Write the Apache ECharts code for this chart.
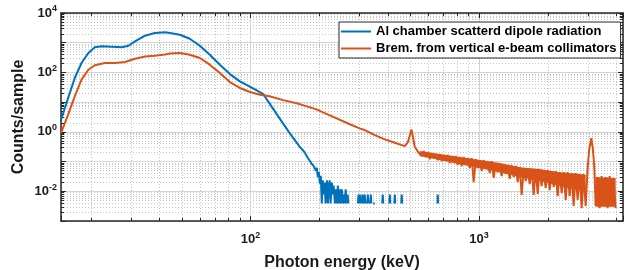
<!DOCTYPE html>
<html lang="en">
<head>
<meta charset="UTF-8">
<title>Photon spectrum</title>
<script src="https://cdn.jsdelivr.net/npm/echarts@6/dist/echarts.min.js"></script>
<style>
    html, body { margin: 0; padding: 0; background: #fff; }
    #main { width: 625px; height: 270px; }
</style>
</head>
<body>
<div id="main"></div>
<script type="text/javascript">

// legend names
var seriesNames = ['Al chamber scatterd dipole radiation', 'Brem. from vertical e-beam collimators'];

// Al chamber: photon energy (keV) / counts per sample, null = empty bin
var blueE = [14.8, 15.9, 17.0, 18.2, 19.5, 20.8, 22.3, 24.7, 27.3, 29.2, 31.2, 34.5, 38.1, 42.2, 44.4, 49.1, 54.2, 60.0, 66.3, 73.4,
    81.2, 89.8, 99.3, 106, 113.6, 121, 134, 148.6, 164, 172,
    178, 182, 185, 189, 193, 195, 197, 199, 201, 203, 205, 207, 209, 211, 213, 216, 218, 220, 222, 224,
    227, 229, 231, 234, 236, 239, 241, 243, 246, 248, 251, 253, 256, 258, 261, 263, 266, 268, 270,
    295, 297, 299, 301, 303, 304, 307, 309, 311, 312, 314, 316, 318, 320, 324, 326, 328, 330, 334, 336, 338, 340,
    344, 350, 352, 377, 379, 381, 383, 405, 407, 409, 411, 426, 428, 430, 432, 457, 459, 461, 463, 658, 660, 662];
var blueC = [2.5, 13.7, 65, 208, 450, 700, 760, 730, 700, 790, 1115, 1720, 2120, 2240, 2120, 1860, 1365, 790, 395, 182,
    88, 50, 33, 25.5, 18.7, 9.1, 2.85, 0.89, 0.32, 0.21,
    0.135, 0.105, 0.085, 0.07, 0.05, 0.062, 0.03, 0.045, 0.018, 0.033, 0.0039, 0.0234, 0.0078, 0.0195, 0.0039, 0.0234, 0.0039, 0.0156, 0.0234, 0.0039,
    0.0195, 0.0078, 0.0156, 0.0039, 0.0117, 0.0039, 0.0156, 0.0039, 0.0117, 0.0039, 0.0117, 0.0039, 0.0078, 0.0039, 0.0117, 0.0039, 0.0078, 0.0039, null,
    0.0039, 0.0078, 0.0039, 0.0078, 0.0039, null, 0.0039, 0.0078, 0.0039, null, 0.0039, 0.0078, 0.0039, null, 0.0039, 0.0078, 0.0039, null, 0.0039, 0.0078, 0.0039, null,
    0.0039, 0.0039, null, 0.0039, 0.0078, 0.0039, null, 0.0039, 0.0078, 0.0039, null, 0.0039, 0.0078, 0.0039, null, 0.0039, 0.0078, 0.0039, null, 0.0039, 0.0078, 0.0039];

// collimators: photon energy (keV) / counts per sample
var orangeE = [14.8, 15.9, 17.0, 18.2, 19.5, 20.8, 23.0, 25.5, 28.2, 31.2, 34.5, 38.1, 42.2, 44.4, 49.1, 54.2, 60.0, 66.3, 73.4, 81.2,
    89.8, 99.3, 110, 121, 139, 164, 194, 230, 272, 300, 316, 350, 387, 428, 473, 489, 500, 506, 512, 523, 541,
    550, 562, 573, 585, 597, 609, 621, 634, 647, 660, 673, 687, 701, 715, 730, 745, 760, 775, 791, 807,
    824, 840, 857, 875, 893, 911, 929, 948, 968, 987, 1007, 1028, 1049, 1070, 1092, 1114, 1137, 1160, 1183, 1208,
    1232, 1257, 1283, 1309, 1336, 1363, 1390, 1419, 1448, 1477, 1507, 1538, 1569, 1601, 1634, 1667, 1701, 1735, 1771, 1807,
    1843, 1881, 1919, 1958, 1998, 2039, 2080, 2123, 2166, 2210, 2255, 2301, 2348, 2396, 2444, 2494, 2545, 2597, 2649, 2703,
    2758, 2815, 2872, 2930, 2990, 3035, 3103, 3150, 3200, 3240, 3306, 3373, 3442, 3512, 3583, 3656, 3731, 3807, 3884, 3963];
var orangeC = [0.9, 3.8, 15.7, 57, 123, 174, 207, 207, 224, 288, 345, 363, 400, 435, 450, 395, 305, 182, 95, 47.5,
    30, 22, 17.8, 15.7, 11.7, 8.6, 5.7, 3.2, 1.8, 1.31, 1.15, 0.78, 0.56, 0.43, 0.33, 0.46, 0.85, 1.2, 0.8, 0.32, 0.21,
    0.226, 0.153, 0.226, 0.142, 0.209, 0.121, 0.193, 0.131, 0.179, 0.112, 0.179, 0.104, 0.166, 0.112, 0.166, 0.089, 0.153, 0.096, 0.153, 0.076,
    0.142, 0.071, 0.142, 0.082, 0.131, 0.0605, 0.131, 0.0204, 0.121, 0.0605, 0.112, 0.048, 0.112, 0.056, 0.104, 0.041, 0.104, 0.028, 0.089, 0.044,
    0.089, 0.0325, 0.082, 0.038, 0.076, 0.026, 0.076, 0.030, 0.071, 0.0204, 0.065, 0.0075, 0.0605, 0.022, 0.0605, 0.0175, 0.056, 0.0075, 0.056, 0.0081,
    0.056, 0.015, 0.052, 0.0128, 0.052, 0.011, 0.048, 0.0139, 0.048, 0.0069, 0.044, 0.0087, 0.044, 0.0051, 0.044, 0.0069, 0.041, 0.0032, 0.041, 0.0051,
    0.038, 0.0027, 0.038, 0.0032, 0.06, 0.244, 0.618, 0.285, 0.06, 0.0032, 0.030, 0.0027, 0.0325, 0.0032, 0.030, 0.0027, 0.0325, 0.0032, 0.028, 0.0027];

// dense noise band of the collimator spectrum (upper / lower edge)
var band1E = [550, 673, 824, 1007, 1232, 1507, 1843, 2255, 2758, 2930];
var band1Top = [0.226, 0.179, 0.142, 0.112, 0.089, 0.065, 0.056, 0.044, 0.038, 0.035];
var band1Bot = [0.153, 0.112, 0.082, 0.0605, 0.044, 0.030, 0.022, 0.015, 0.011, 0.0094];
var band2E = [3240, 3500, 3963];
var band2Top = [0.030, 0.029, 0.028];
var band2Bot = [0.0030, 0.0030, 0.0030];

// axis ranges
var xMin = 14.8, xMax = 4270;
var yMin = 0.001, yMax = 10000;

var font = 'Liberation Sans, Arial, Helvetica, sans-serif';
var ink = '#1a1a1a';
var lineIcon = 'path://M0,0 L30,0 L30,2 L0,2 Z';

function pairs(e, c) {
    var out = [];
    for (var i = 0; i < Math.min(e.length, c.length); i++) {
        out.push([e[i], c[i] === null ? '-' : c[i]]);
    }
    return out;
}

// 10^n labels
function decadeLabel(step) {
    return function (value) {
        var p = Math.log(value) / Math.LN10;
        var n = Math.round(p);
        if (Math.abs(p - n) > 1e-6 || n % step !== 0) return '';
        return '{b|10}{s|' + n + '}';
    };
}
var labelRich = {
    b: {fontFamily: font, fontSize: 13, fontWeight: 'bold', color: ink},
    s: {fontFamily: font, fontSize: 9, fontWeight: 'bold', color: ink, padding: [0, 0, 8, 0]}
};

function logAxis(pos, min, max, withLabels) {
    var main = pos === 'bottom' || pos === 'left';
    return {
        type: 'log',
        logBase: 10,
        position: pos,
        min: min,
        max: max,
        axisLine: {show: true, onZero: false, lineStyle: {color: '#262626', width: 1.5}},
        axisTick: {show: true, inside: true, length: 5, lineStyle: {color: '#262626', width: 1}},
        minorTick: {show: true, splitNumber: 9, length: 3, lineStyle: {color: '#262626', width: 1}},
        axisLabel: {show: withLabels, formatter: decadeLabel(pos === 'left' ? 2 : 1), rich: labelRich,
            margin: pos === 'left' ? 4 : 10},
        splitLine: {show: main, lineStyle: {color: '#d4d4d4', width: 1}},
        minorSplitLine: {show: main, lineStyle: {color: '#c4c4c4', width: 1, type: [1, 2]}}
    };
}

var bands = [
    {e: band1E, top: band1Top, bot: band1Bot},
    {e: band2E, top: band2Top, bot: band2Bot}
];

function renderBand(params, api) {
    var b = bands[params.dataIndex];
    var pts = [];
    for (var i = 0; i < b.e.length; i++) pts.push(api.coord([b.e[i], b.top[i]]));
    for (var j = b.e.length - 1; j >= 0; j--) pts.push(api.coord([b.e[j], b.bot[j]]));
    return {type: 'polygon', shape: {points: pts}, style: {fill: '#D95319'}};
}

var myChart = echarts.init(document.getElementById('main'));

var xBottom = logAxis('bottom', xMin, xMax, true);
xBottom.name = 'Photon energy (keV)';
xBottom.nameLocation = 'middle';
xBottom.nameGap = 34;
xBottom.nameMoveOverlap = false;
xBottom.nameTextStyle = {fontFamily: font, fontSize: 16, fontWeight: 'bold', color: ink};

var yLeft = logAxis('left', yMin, yMax, true);
yLeft.name = 'Counts/sample';
yLeft.nameLocation = 'middle';
yLeft.nameGap = 34;
yLeft.nameMoveOverlap = false;
yLeft.nameTextStyle = {fontFamily: font, fontSize: 16, fontWeight: 'bold', color: ink};

var option = {
    animation: false,
    backgroundColor: '#fff',
    grid: {left: 61, right: 2, top: 13, bottom: 49, containLabel: false, outerBoundsMode: 'none'},
    legend: {
        data: [
            {name: seriesNames[0], icon: lineIcon},
            {name: seriesNames[1], icon: lineIcon}
        ],
        orient: 'vertical',
        left: 339,
        top: 22,
        padding: [3, 4, 3, 2],
        itemWidth: 30,
        itemHeight: 14,
        itemGap: 4,
        backgroundColor: '#fff',
        borderColor: '#262626',
        borderWidth: 1,
        borderRadius: 0,
        textStyle: {fontFamily: font, fontSize: 13, fontWeight: 'bold', color: '#000'}
    },
    xAxis: [xBottom, logAxis('top', xMin, xMax, false)],
    yAxis: [yLeft, logAxis('right', yMin, yMax, false)],
    series: [
        {
            name: seriesNames[0],
            type: 'line',
            data: pairs(blueE, blueC),
            symbol: 'none',
            connectNulls: false,
            lineStyle: {color: '#0072BD', width: 2},
            itemStyle: {color: '#0072BD'}
        },
        {
            name: seriesNames[1],
            type: 'line',
            data: pairs(orangeE, orangeC),
            symbol: 'none',
            lineStyle: {color: '#D95319', width: 2},
            itemStyle: {color: '#D95319'}
        },
        {
            name: 'band',
            type: 'custom',
            renderItem: renderBand,
            data: [[band1E[0], band1Top[0]], [band2E[0], band2Top[0]]],
            silent: true
        }
    ]
};

myChart.setOption(option);
</script>
</body>
</html>
